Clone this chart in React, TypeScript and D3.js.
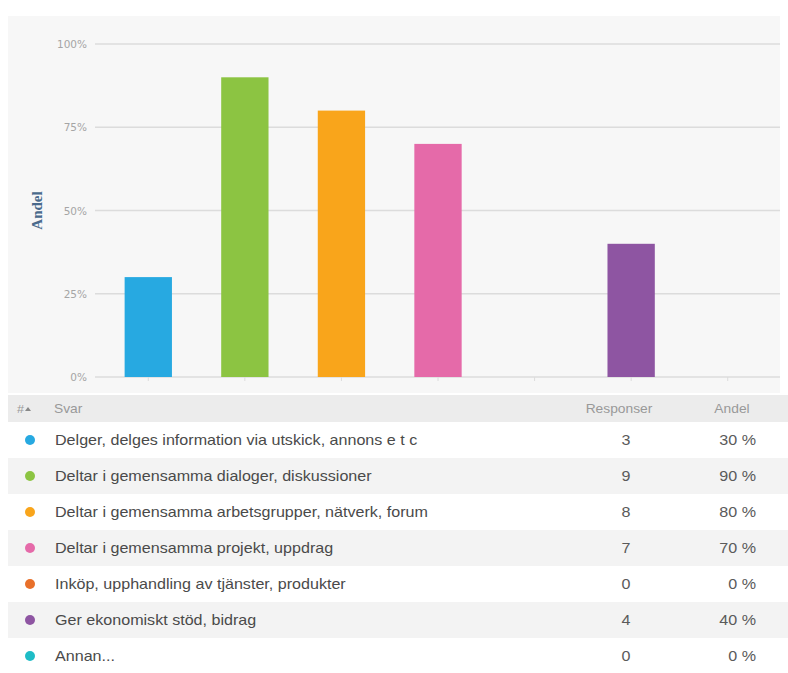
import React from "react";
import * as d3 from "d3";

const categories = [
  "Delger, delges information via utskick, annons e t c",
  "Deltar i gemensamma dialoger, diskussioner",
  "Deltar i gemensamma arbetsgrupper, nätverk, forum",
  "Deltar i gemensamma projekt, uppdrag",
  "Inköp, upphandling av tjänster, produkter",
  "Ger ekonomiskt stöd, bidrag",
  "Annan...",
];
const responses = [3, 9, 8, 7, 0, 4, 0];
const shares = [30, 90, 80, 70, 0, 40, 0];
const colors = ["#27a9e1", "#8cc442", "#f9a51b", "#e56aa9", "#e8702a", "#8e55a2", "#1fbcc6"];
const yTicks = [0, 25, 50, 75, 100];

const SANS = "Liberation Sans, Arial, sans-serif";

function SText({ x, y, anchor = "start", size, fill, sx = 1.15, children }: any) {
  return (
    <text transform={`translate(${x},${y}) scale(${sx},1)`} textAnchor={anchor} fontFamily={SANS} fontSize={size} fill={fill}>
      {children}
    </text>
  );
}

export default function App() {
  const W = 788, H = 673;
  const x = d3.scaleBand<number>().domain(d3.range(categories.length)).range([100, 776]).paddingInner(0.51).paddingOuter(0.255);
  const y = d3.scaleLinear().domain([0, 100]).range([377, 44]);
  const rowTop = 422, rowH = 36;
  return (
    <svg width={W} height={H} style={{ position: "absolute", left: 0, top: 0, background: "#fff" }}>
      <rect x={8} y={16} width={772} height={377} fill="#f7f7f7" />
      {yTicks.map((t) => (
        <g key={t}>
          <line x1={95} x2={780} y1={y(t)} y2={y(t)} stroke="#dcdcdc" strokeWidth={1.3} />
          <text x={87} y={y(t) + 4} textAnchor="end" fontFamily="DejaVu Sans, sans-serif" fontSize={10.5} fill="#a5a5a5">{t}%</text>
        </g>
      ))}
      {categories.map((_, i) => (
        <line key={"tk" + i} x1={x(i)! + x.bandwidth() / 2} x2={x(i)! + x.bandwidth() / 2} y1={y(0)} y2={y(0) + 4} stroke="#dcdcdc" />
      ))}
      <text transform={`translate(42,${(y(0) + y(100)) / 2}) rotate(-90)`} textAnchor="middle" fontFamily="Liberation Serif, serif" fontWeight="bold" fontSize={15} fill="#4a6a8c">Andel</text>
      {shares.map((v, i) => (
        <rect key={"b" + i} x={x(i)} y={y(v)} width={x.bandwidth()} height={y(0) - y(v)} fill={colors[i]} />
      ))}
      <rect x={8} y={395} width={780} height={27} fill="#ececec" />
      <SText x={17} y={413} size={11} fill="#999">#</SText>
      <path d="M25,411 l3,-4 l3,4 z" fill="#888" />
      <SText x={54} y={413} size={12} fill="#999">Svar</SText>
      <SText x={619} y={413} anchor="middle" size={12} fill="#999">Responser</SText>
      <SText x={732} y={413} anchor="middle" size={12} fill="#999">Andel</SText>
      {categories.map((c, i) => {
        const top = rowTop + i * rowH;
        const cy = top + rowH / 2;
        return (
          <g key={"r" + i}>
            <rect x={8} y={top} width={780} height={rowH} fill={i % 2 === 0 ? "#ffffff" : "#f3f3f3"} />
            <circle cx={30} cy={cy} r={5} fill={colors[i]} />
            <SText x={55} y={cy + 5} size={14} fill="#4a4a4a">{c}</SText>
            <SText x={626} y={cy + 5} anchor="middle" size={14} fill="#5a5a5a">{responses[i]}</SText>
            <SText x={756} y={cy + 5} anchor="end" size={14} fill="#5a5a5a">{shares[i]} %</SText>
          </g>
        );
      })}
    </svg>
  );
}
